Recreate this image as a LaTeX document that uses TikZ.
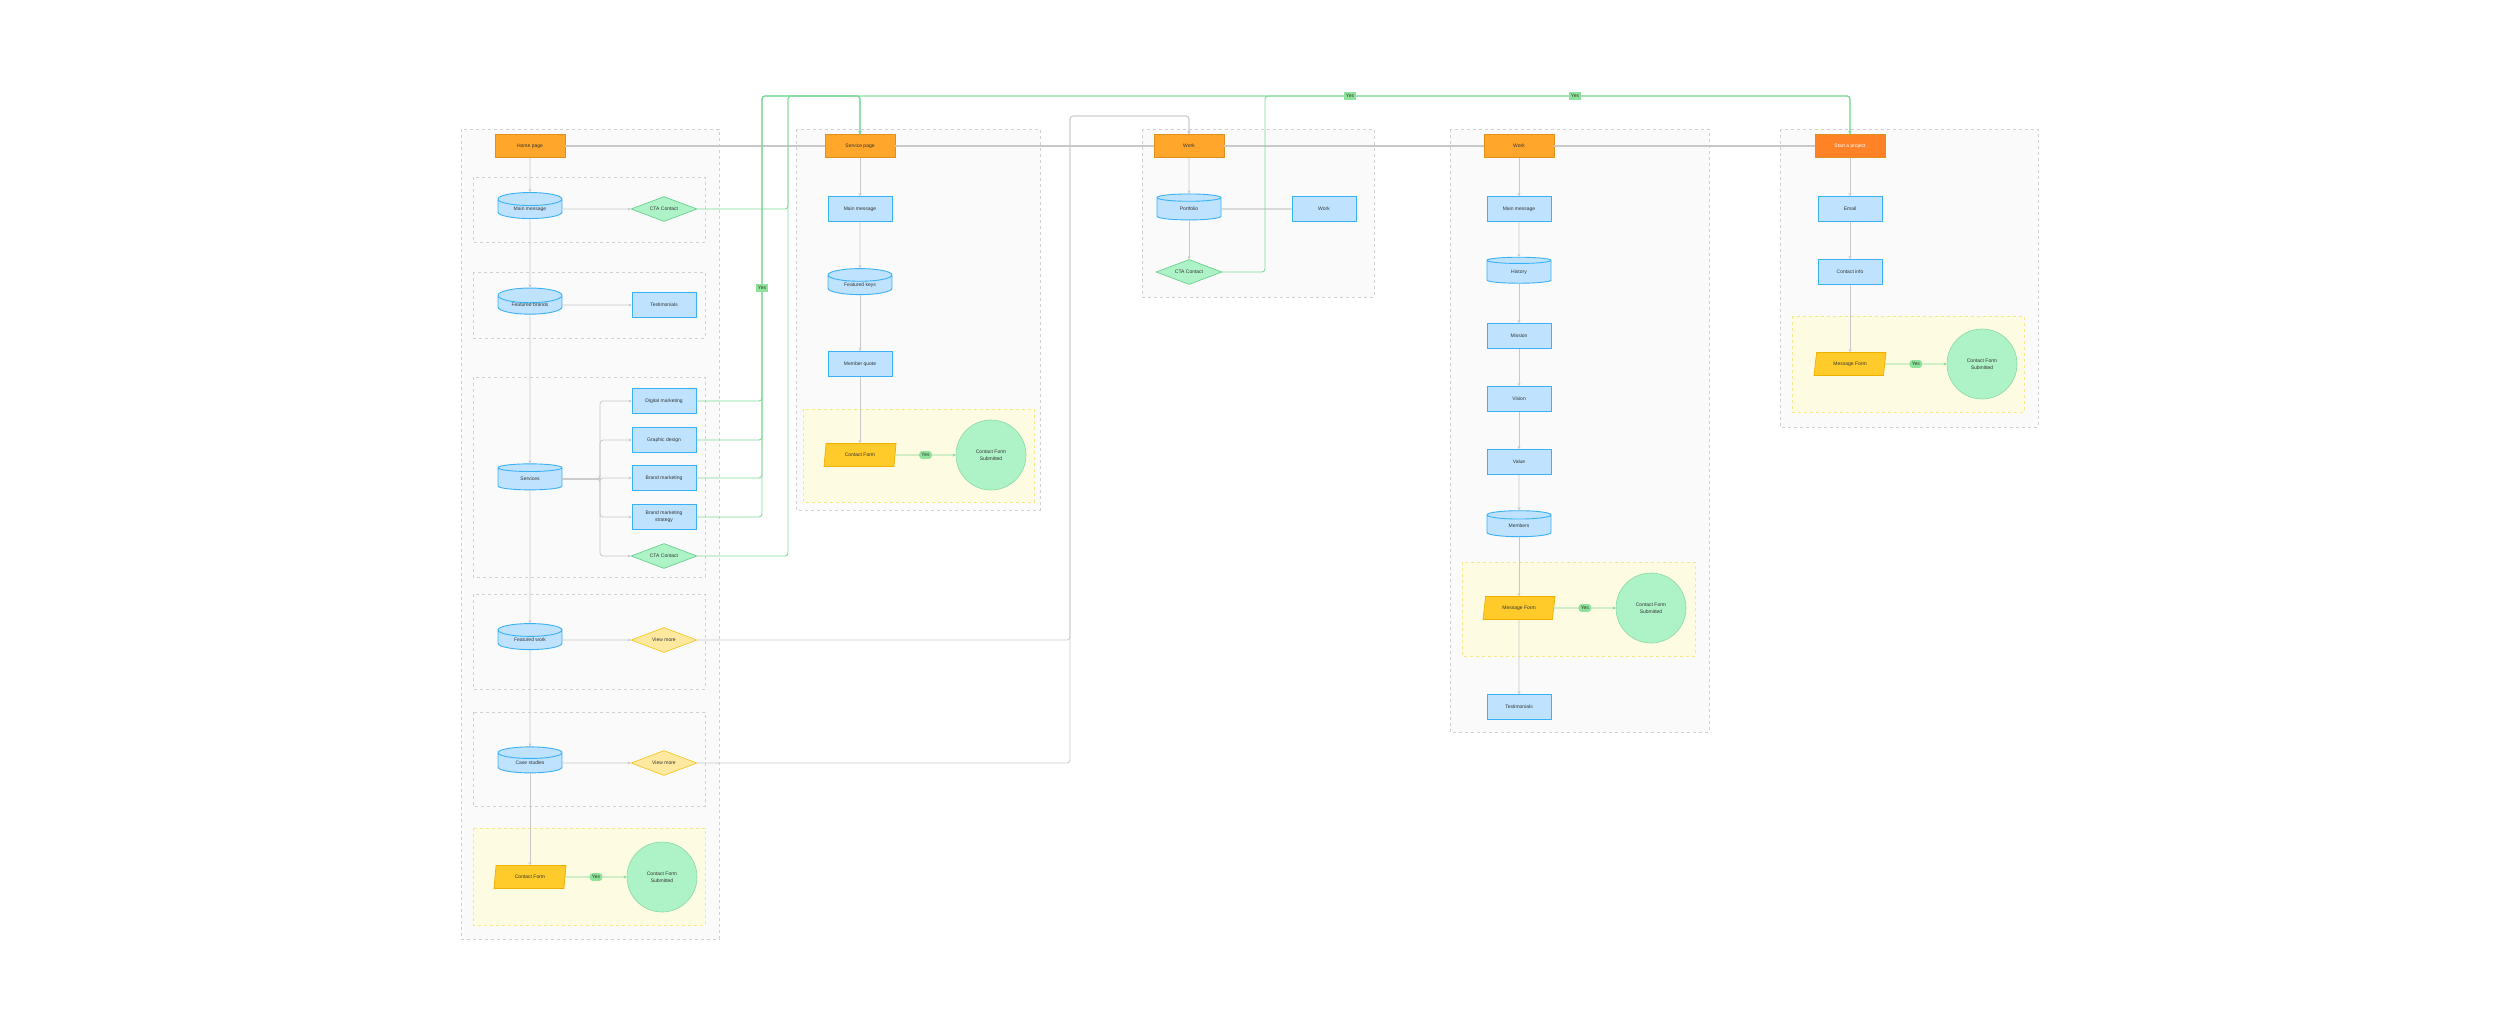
\documentclass[tikz,border=0pt]{standalone}
\usepackage{fontspec}
\setmainfont{Liberation Sans}
\usetikzlibrary{shapes.geometric,arrows.meta}
\definecolor{grpfill}{HTML}{FAFAFA}
\definecolor{grpdraw}{HTML}{D0D0D0}
\definecolor{yelfill}{HTML}{FDFBE1}
\definecolor{yeldraw}{HTML}{F3E98A}
\definecolor{pagefill}{HTML}{FFA62B}
\definecolor{pagedraw}{HTML}{E0901C}
\definecolor{startfill}{HTML}{FF8227}
\definecolor{bluefill}{HTML}{BFE3FF}
\definecolor{bluedraw}{HTML}{3AB0F5}
\definecolor{grnfill}{HTML}{AEF3C7}
\definecolor{grndraw}{HTML}{6BD08F}
\definecolor{ydfill}{HTML}{FFE9A0}
\definecolor{yddraw}{HTML}{F2C722}
\definecolor{formfill}{HTML}{FFCB2B}
\definecolor{formdraw}{HTML}{F0B000}
\definecolor{linegray}{HTML}{C8C8C8}
\definecolor{linegreen}{HTML}{7ED99A}
\definecolor{yesfill}{HTML}{8EE39B}
\newcommand\cyt[1]{\raisebox{-3.5pt}{#1}}
\tikzset{
 every node/.style={font=\fontsize{5}{6}\selectfont, text=black!80, align=center},
 grp/.style={draw=grpdraw, dashed, fill=grpfill, line width=0.6},
 yel/.style={draw=yeldraw, dashed, fill=yelfill, line width=0.6},
 page/.style={draw=pagedraw, fill=pagefill, minimum width=70, minimum height=23, inner sep=0, line width=0.7},
 startpage/.style={page, fill=startfill, text=white},
 rectb/.style={draw=bluedraw, fill=bluefill, minimum width=64, minimum height=25, inner sep=0, line width=0.9},
 cyl/.style={cylinder, shape border rotate=90, aspect=0.4, draw=bluedraw, fill=bluefill, minimum width=64, minimum height=26, inner sep=0, line width=0.9},
 diag/.style={diamond, aspect=2.6, draw=grndraw, fill=grnfill, minimum width=66, minimum height=25, inner sep=0, line width=0.7},
 diay/.style={diamond, aspect=2.6, draw=yddraw, fill=ydfill, minimum width=66, minimum height=25, inner sep=0, line width=0.7},
 form/.style={trapezium, trapezium left angle=60, trapezium right angle=120, trapezium stretches body, draw=formdraw, fill=formfill, minimum width=72, minimum height=23, inner sep=0, line width=0.7},
 circ/.style={circle, draw=grndraw!80, fill=grnfill, minimum size=70, inner sep=0, line width=0.6},
 yes/.style={fill=yesfill, inner sep=2.2},
 gl/.style={draw=linegray, line width=0.8, -{Stealth[length=3pt,width=3pt]}},
 glp/.style={draw=linegray, line width=1.2},
 grl/.style={draw=linegreen, line width=0.9, rounded corners=3, -{Stealth[length=3pt,width=3pt]}},
}
\begin{document}
\begin{tikzpicture}[x=1pt,y=-1pt]
\useasboundingbox (0,0) rectangle (2500,1021);
% containers
\draw[grp] (461,129) rectangle (719,939);
\draw[grp] (473,177) rectangle (705,242);
\draw[grp] (473,272) rectangle (705,338);
\draw[grp] (473,377) rectangle (705,577);
\draw[grp] (473,594) rectangle (705,689);
\draw[grp] (473,712) rectangle (705,806);
\draw[yel] (473,828) rectangle (705,925);
\draw[grp] (796,129) rectangle (1040,510);
\draw[yel] (803,409) rectangle (1034,502);
\draw[grp] (1142,129) rectangle (1374,297);
\draw[grp] (1450,129) rectangle (1709,732);
\draw[yel] (1462,562) rectangle (1695,656);
\draw[grp] (1780,129) rectangle (2038,427);
\draw[yel] (1792,316) rectangle (2024,412);

% column 1
\node[page] (home) at (530,146) {Home page};
\node[cyl] (mm1) at (530,209) {\cyt{Main message}};
\node[diag] (cta1) at (664,209) {CTA Contact};
\node[cyl] (fb) at (530,305) {\cyt{Featured brands}};
\node[rectb] (tst1) at (664,305) {Testimonials};
\node[cyl] (serv) at (530,479) {\cyt{Services}};
\node[rectb] (dm) at (664,401) {Digital marketing};
\node[rectb] (gd) at (664,440) {Graphic design};
\node[rectb] (bm) at (664,478) {Brand marketing};
\node[rectb] (bms) at (664,517) {Brand marketing\\[1pt]strategy};
\node[diag] (cta2) at (664,556) {CTA Contact};
\node[cyl] (fw) at (530,640) {\cyt{Featured work}};
\node[diay] (vm1) at (664,640) {View more};
\node[cyl] (cs) at (530,763) {\cyt{Case studies}};
\node[diay] (vm2) at (664,763) {View more};
\node[form] (cf1) at (530,877) {Contact Form};
\node[circ] (sub1) at (662,877) {Contact Form\\[1pt]Submitted};

% column 2
\node[page] (sp) at (860,146) {Service page};
\node[rectb] (mm2) at (860,209) {Main message};
\node[cyl] (fk) at (860,285) {\cyt{Featured keys}};
\node[rectb] (mq) at (860,364) {Member quote};
\node[form] (cf2) at (860,455) {Contact Form};
\node[circ] (sub2) at (991,455) {Contact Form\\[1pt]Submitted};

% column 3
\node[page] (wk1) at (1189,146) {Work};
\node[cyl] (pf) at (1189,209) {\cyt{Portfolio}};
\node[rectb] (wk) at (1324,209) {Work};
\node[diag] (cta3) at (1189,272) {CTA Contact};

% column 4
\node[page] (wk2) at (1519,146) {Work};
\node[rectb] (mm3) at (1519,209) {Main message};
\node[cyl] (hist) at (1519,272) {\cyt{History}};
\node[rectb] (mis) at (1519,336) {Mission};
\node[rectb] (vis) at (1519,399) {Vision};
\node[rectb] (val) at (1519,462) {Value};
\node[cyl] (mem) at (1519,526) {\cyt{Members}};
\node[form] (mf1) at (1519,608) {Message Form};
\node[circ] (sub3) at (1651,608) {Contact Form\\[1pt]Submitted};
\node[rectb] (tst2) at (1519,707) {Testimonials};

% column 5
\node[startpage] (start) at (1850,146) {Start a project};
\node[rectb] (em) at (1850,209) {Email};
\node[rectb] (ci) at (1850,272) {Contact info};
\node[form] (mf2) at (1850,364) {Message Form};
\node[circ] (sub4) at (1982,364) {Contact Form\\[1pt]Submitted};

% page line
\draw[glp] (home.east) -- (sp.west);
\draw[glp] (sp.east) -- (wk1.west);
\draw[glp] (wk1.east) -- (wk2.west);
\draw[glp] (wk2.east) -- (start.west);

% column 1 gray
\draw[gl] (home) -- (mm1);
\draw[gl] (mm1) -- (fb);
\draw[gl] (fb) -- (serv);
\draw[gl] (serv) -- (fw);
\draw[gl] (fw) -- (cs);
\draw[gl] (cs) -- (cf1);
\draw[gl] (mm1.east) -- (cta1.west);
\draw[gl] (fb.east) -- (tst1.west);
\draw[gl] (fw.east) -- (vm1.west);
\draw[gl] (cs.east) -- (vm2.west);
\foreach \t in {dm,gd,bm,bms,cta2}{
 \draw[gl, rounded corners=3] (serv.east) -- (600,479) |- (\t.west);
}
% column 2..5 gray
\draw[gl] (sp) -- (mm2);
\draw[gl] (mm2) -- (fk);
\draw[gl] (fk) -- (mq);
\draw[gl] (mq) -- (cf2);
\draw[gl] (wk1) -- (pf);
\draw[gl] (pf) -- (cta3);
\draw[glp] (pf.east) -- (wk.west);
\draw[gl] (wk2) -- (mm3);
\draw[gl] (mm3) -- (hist);
\draw[gl] (hist) -- (mis);
\draw[gl] (mis) -- (vis);
\draw[gl] (vis) -- (val);
\draw[gl] (val) -- (mem);
\draw[gl] (mem) -- (mf1);
\draw[gl] (mf1) -- (tst2);
\draw[gl] (start) -- (em);
\draw[gl] (em) -- (ci);
\draw[gl] (ci) -- (mf2);
% view more links
\draw[gl, rounded corners=3] (vm1.east) -| (1070,116) -| (wk1.north);
\draw[gl, rounded corners=3] (vm2.east) -| (1070,116) -| (wk1.north);

% green links
\foreach \t in {dm,gd,bm,bms}{
 \draw[grl] (\t.east) -| (762,96) -| (sp.north);
}
\draw[grl] (cta1.east) -| (788,96) -| (start.north);
\draw[grl] (cta2.east) -| (788,96) -| (start.north);
\draw[grl] (cta3.east) -| (1265,96) -| (start.north);
\node[yes] at (762,288) {Yes};
\node[yes] at (1350,96) {Yes};
\node[yes] at (1575,96) {Yes};

% form yes links
\draw[grl] (cf1.east) -- node[yes]{Yes} (sub1.west);
\draw[grl] (cf2.east) -- node[yes]{Yes} (sub2.west);
\draw[grl] (mf1.east) -- node[yes]{Yes} (sub3.west);
\draw[grl] (mf2.east) -- node[yes]{Yes} (sub4.west);
\end{tikzpicture}
\end{document}
